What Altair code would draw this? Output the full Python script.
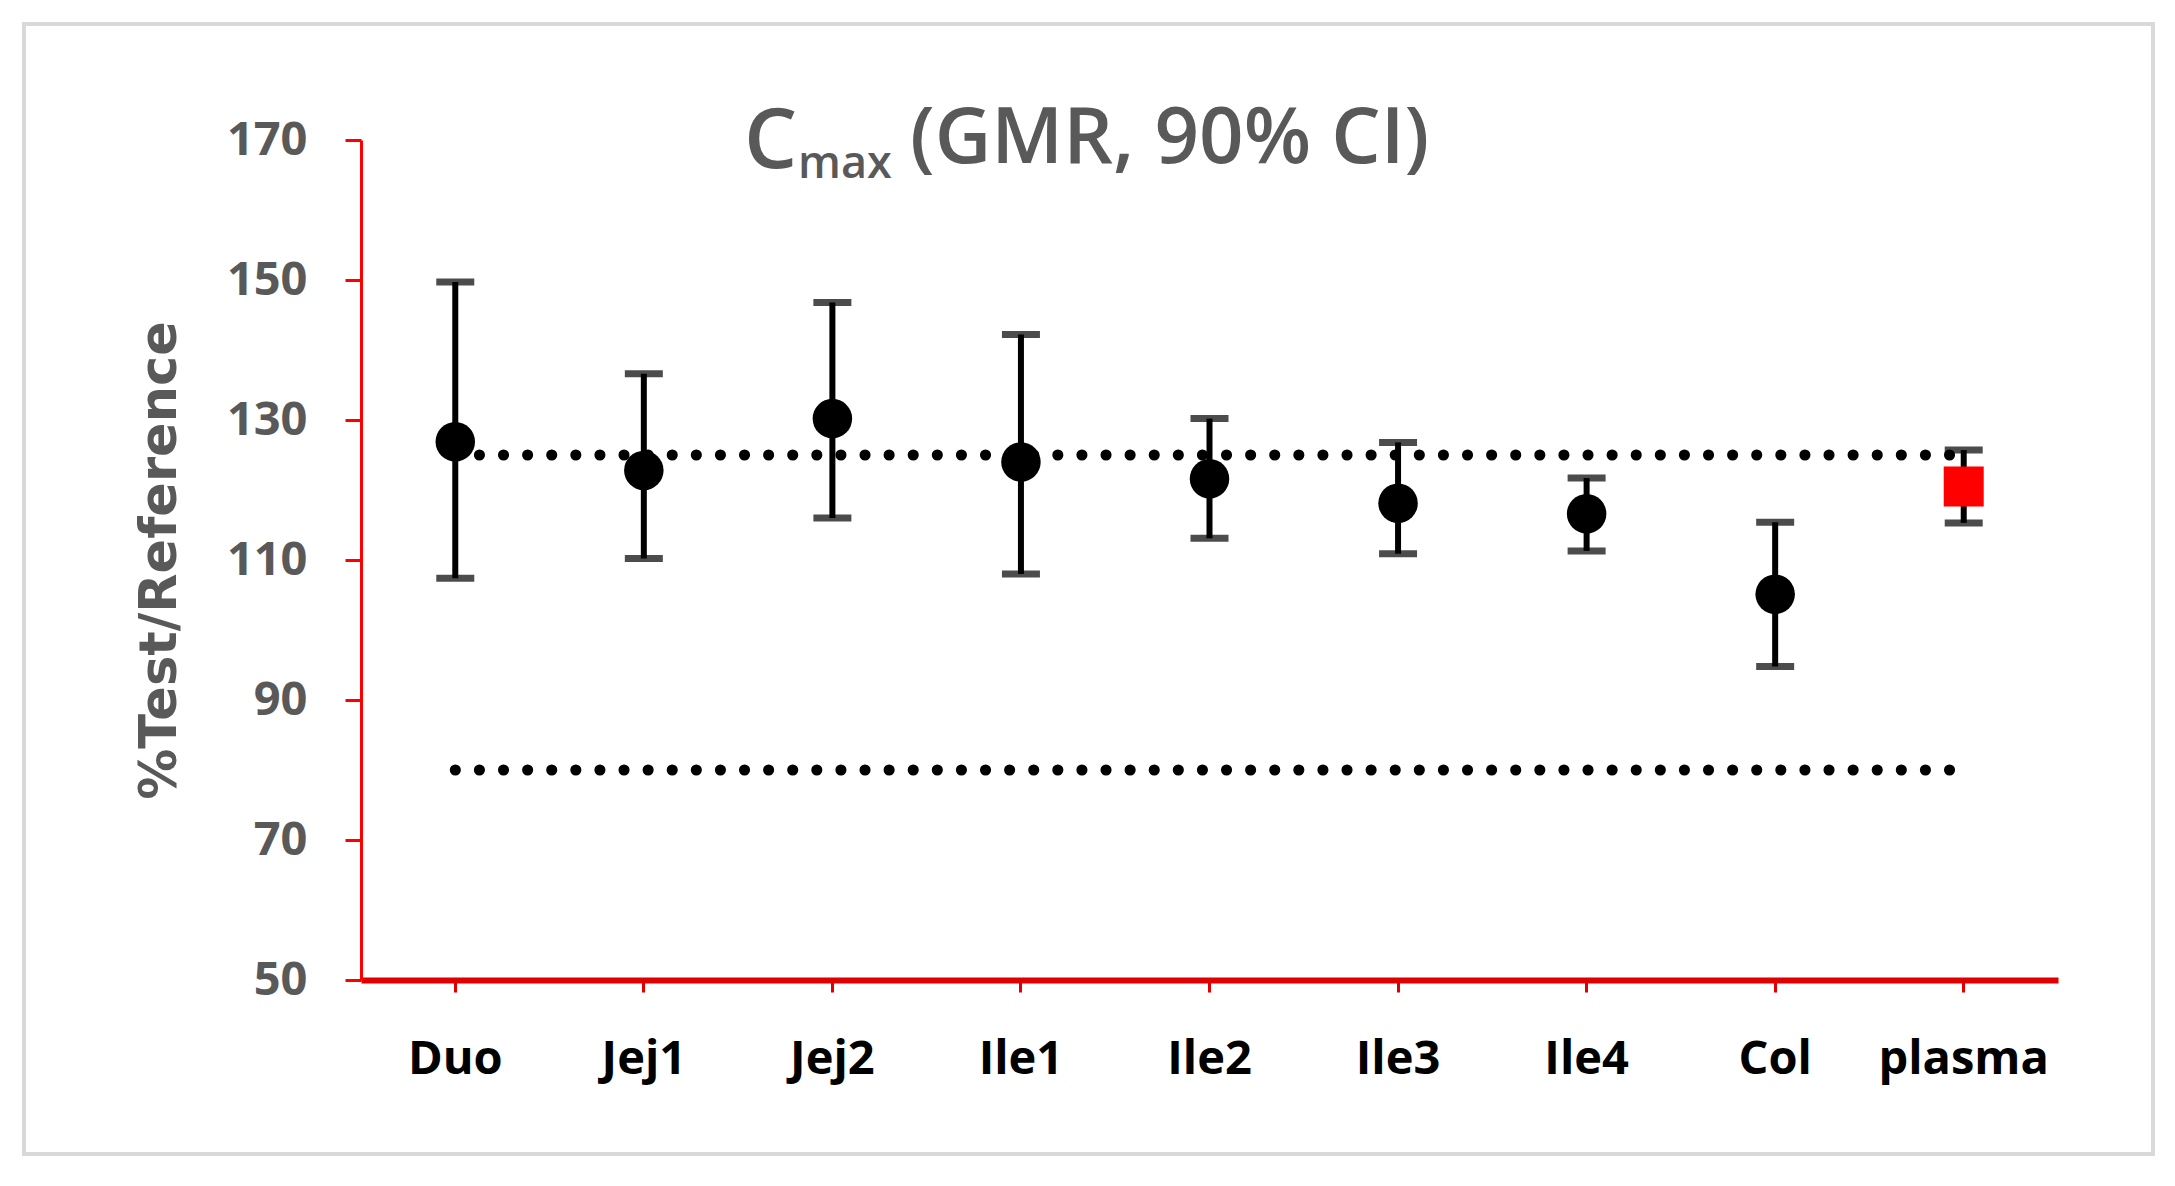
import altair as alt
import pandas as pd

categories = ["Duo", "Jej1", "Jej2", "Ile1", "Ile2", "Ile3", "Ile4", "Col", "plasma"]
gmr = [126.9, 122.8, 130.2, 124.0, 121.6, 118.1, 116.6, 105.1, 120.5]
ci_low = [107.4, 110.2, 116.0, 108.0, 113.1, 110.9, 111.3, 94.8, 115.3]
ci_high = [149.7, 136.6, 146.8, 142.2, 130.2, 126.8, 121.7, 115.4, 125.7]
marker = ["tissue"] * 8 + ["plasma"]

ref_levels = [125, 80]
y_ticks = [50, 70, 90, 110, 130, 150, 170]

df = pd.DataFrame({"cat": categories, "gmr": gmr, "lo": ci_low, "hi": ci_high, "marker": marker})
ref_df = pd.DataFrame(
    [{"cat": c, "v": lv, "lvl": str(lv)} for lv in ref_levels for c in (categories[0], categories[-1])]
)

W, H = 1697, 840

x_enc = alt.X(
    "cat:N",
    sort=categories,
    scale=alt.Scale(paddingInner=0, paddingOuter=0),
    axis=alt.Axis(
        title=None, labelAngle=0, labelFont="Open Sans", labelFontWeight="bold",
        labelFontSize=47, labelColor="#000000", labelPadding=44,
        domainColor="#e00000", domainWidth=6, tickColor="#e00000", tickWidth=3, tickSize=12,
        grid=False,
    ),
)
y_scale = alt.Scale(domain=[50, 170], nice=False, zero=False)
y_axis = alt.Axis(
    title="%Test/Reference", values=y_ticks, grid=False,
    labelFont="Open Sans", labelFontWeight="bold", labelFontSize=47, labelColor="#595959",
    labelPadding=38, domainColor="#ff0000", domainWidth=3, tickColor="#ff0000", tickWidth=3, tickSize=16,
    titleFont="DejaVu Sans", titleFontWeight="bold", titleFontSize=51, titleColor="#595959",
    titleX=-201, titleBaseline="middle",
)

one = pd.DataFrame({"k": [0]})

frame = alt.Chart(one).mark_rect(fill=None, stroke="#d9d9d9", strokeWidth=4).encode(
    x=alt.value(-337), x2=alt.value(1792), y=alt.value(-116), y2=alt.value(1014)
)

refs = alt.Chart(ref_df).mark_line(
    color="black", strokeWidth=11, strokeDash=[0.1, 24], strokeCap="round"
).encode(x=x_enc, y=alt.Y("v:Q", scale=y_scale, axis=y_axis), detail="lvl:N")

bars = alt.Chart(df).mark_rule(color="black", strokeWidth=6).encode(
    x=x_enc, y=alt.Y("lo:Q", scale=y_scale, axis=y_axis), y2="hi:Q"
)
cap_lo = alt.Chart(df).mark_tick(color="black", size=38, thickness=7).encode(
    x=x_enc, y=alt.Y("lo:Q", scale=y_scale, axis=y_axis)
)
cap_hi = alt.Chart(df).mark_tick(color="black", size=38, thickness=7).encode(
    x=x_enc, y=alt.Y("hi:Q", scale=y_scale, axis=y_axis)
)
pts = alt.Chart(df).transform_filter(alt.datum.marker == "tissue").mark_point(
    shape="circle", filled=True, color="black", opacity=1, size=1560
).encode(x=x_enc, y=alt.Y("gmr:Q", scale=y_scale, axis=y_axis))
sq = alt.Chart(df).transform_filter(alt.datum.marker == "plasma").mark_point(
    shape="square", filled=True, color="#ff0000", opacity=1, size=1600
).encode(x=x_enc, y=alt.Y("gmr:Q", scale=y_scale, axis=y_axis))

t_c = alt.Chart(one).mark_text(
    text="C", font="Open Sans", fontWeight=600, fontSize=84, color="#595959", align="left", baseline="alphabetic"
).encode(x=alt.value(383), y=alt.value(28))
t_max = alt.Chart(one).mark_text(
    text="max", font="Open Sans", fontWeight=600, fontSize=45, color="#595959", align="left", baseline="alphabetic"
).encode(x=alt.value(437), y=alt.value(38))
t_rest = alt.Chart(one).mark_text(
    text="(GMR, 90% CI)", font="Open Sans", fontWeight=600, fontSize=78, color="#595959", align="left",
    baseline="alphabetic"
).encode(x=alt.value(549), y=alt.value(23))

chart = alt.layer(frame, refs, bars, cap_lo, cap_hi, pts, sq, t_c, t_max, t_rest).properties(
    width=W, height=H,
    background="white",
    autosize=alt.AutoSizeParams(type="none"),
    padding={"left": 353, "top": 132, "right": 100, "bottom": 190},
).configure_view(stroke=None)

chart.save("out.html", embed_options={"renderer": "svg", "actions": False})
